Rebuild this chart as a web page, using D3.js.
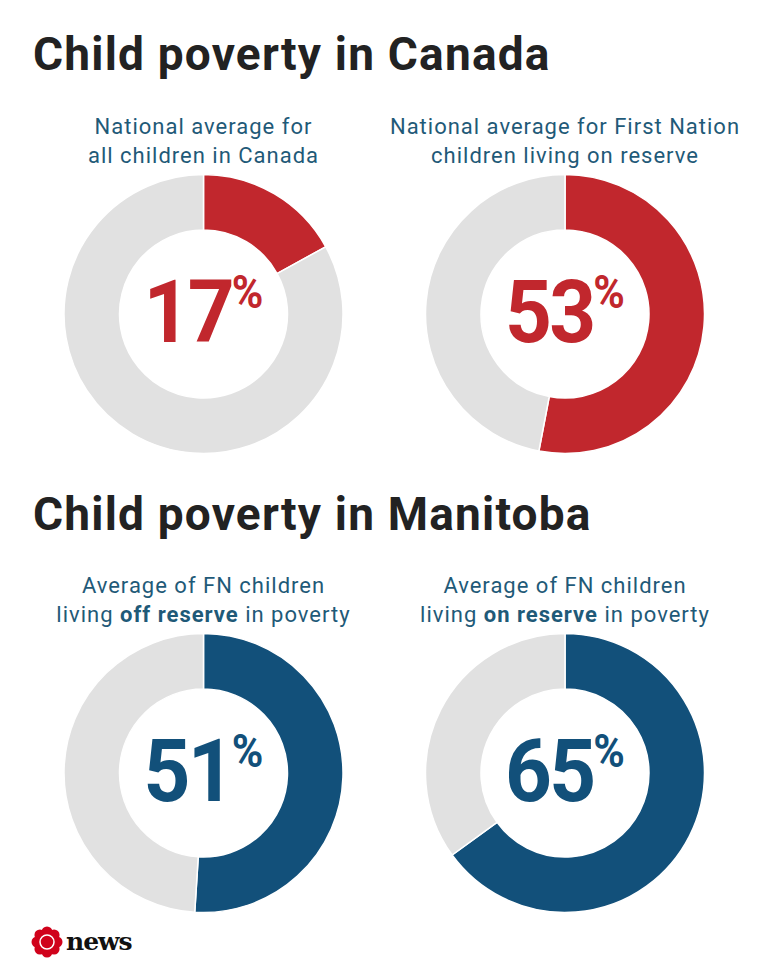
<!DOCTYPE html>
<html><head><meta charset="utf-8">
<script src="https://cdn.jsdelivr.net/npm/d3@7"></script>
<style>body{margin:0;background:#fff}</style>
</head><body>
<svg id="chart" width="780" height="975"></svg>
<script>
// chart values
var values = [17, 53, 51, 65];
var labelsTop = ["National average for", "National average for First Nation", "Average of FN children", "Average of FN children"];
var labelsBottom = [["all children in Canada"], ["children living on reserve"],
  ["living ", "off reserve", " in poverty"], ["living ", "on reserve", " in poverty"]];
var sectionTitles = ["Child poverty in Canada", "Child poverty in Manitoba"];
var colors = ["#c1272d", "#c1272d", "#12507a", "#12507a"];

var svg = d3.select("#chart");
var font = "Roboto, 'Noto Sans', sans-serif";

svg.selectAll(".title").data(sectionTitles).enter()
  .append("text")
    .attr("x", 33).attr("y", function (d, i) { return 70 + i * 460; })
    .style("font-family", font).style("font-weight", "bold")
    .style("font-size", "46px").style("letter-spacing", "1.2px").attr("fill", "#222")
    .text(function (d) { return d; });

var pie = d3.pie().sort(null);
var arc = d3.arc().innerRadius(84).outerRadius(139.5);

values.forEach(function (v, i) {
  var cx = i % 2 == 0 ? 203.5 : 565,
      cy = i < 2 ? 314 : 773;
  var g = svg.append("g").attr("transform", "translate(" + cx + "," + cy + ")");

  g.selectAll("path").data(pie([v, 100 - v])).enter()
    .append("path")
      .attr("d", arc)
      .attr("fill", function (d, j) { return j == 0 ? colors[i] : "#e1e1e1"; })
      .attr("stroke", "#fff").attr("stroke-width", 1.5);

  // subtitle lines
  g.append("text").attr("y", -180).attr("text-anchor", "middle")
    .style("font-family", font).style("font-size", "22px").style("letter-spacing", "1px")
    .attr("fill", "#1f5a78")
    .text(labelsTop[i]);
  var t2 = g.append("text").attr("y", -151).attr("text-anchor", "middle")
    .style("font-family", font).style("font-size", "22px").style("letter-spacing", "1px")
    .attr("fill", "#1f5a78");
  labelsBottom[i].forEach(function (s, k) {
    t2.append("tspan").style("font-weight", k == 1 ? "bold" : "normal").text(s);
  });

  // big number
  var num = g.append("text").attr("y", 28).attr("text-anchor", "middle")
    .attr("fill", colors[i]).style("font-family", font).style("font-weight", "bold")
    .attr("transform", "scale(0.93,1)");
  num.append("tspan").style("font-size", "88px").style("letter-spacing", "-3px").text(v);
  num.append("tspan").style("font-size", "46px").attr("dy", -34).text("%");
});

// logo
var logo = svg.append("g").attr("transform", "translate(47,942)");
[0, 45, 90, 135, 180, 225, 270, 315].forEach(function (a) {
  var r = a * Math.PI / 180;
  logo.append("circle").attr("cx", Math.cos(r) * 10).attr("cy", Math.sin(r) * 10)
    .attr("r", 5.5).attr("fill", "#d0021b");
});
logo.append("circle").attr("r", 7).attr("fill", "#d0021b").attr("stroke", "#fff").attr("stroke-width", 1.5);
svg.append("text").attr("x", 66).attr("y", 950)
  .style("font-family", "'DejaVu Serif', serif").style("font-weight", "bold")
  .style("font-size", "25px").attr("fill", "#111").attr("letter-spacing", "-1px").text("news");
</script>
</body></html>
